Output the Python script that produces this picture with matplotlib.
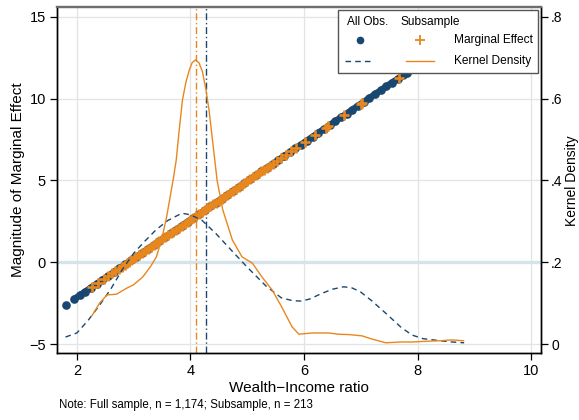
import matplotlib
matplotlib.use("Agg")
import matplotlib.pyplot as plt
from matplotlib.patches import Rectangle
from matplotlib.lines import Line2D

plt.rcParams["font.family"] = ["Liberation Sans", "DejaVu Sans"]

NAVY = "#1a476f"
ORANGE = "#e8871e"

# ---- marginal effects, all observations ----
all_wi = [1.81, 1.95, 2.05, 2.15, 2.25, 2.35, 2.45, 2.55, 2.65, 2.75, 2.85,
          2.95, 3.05, 3.15, 3.25, 3.35, 3.45, 3.55, 3.65, 3.75, 3.85, 3.95,
          4.05, 4.15, 4.25, 4.35, 4.45, 4.55, 4.65, 4.75, 4.85, 4.95, 5.05,
          5.15, 5.25, 5.35, 5.45, 5.55, 5.65, 5.75, 5.85, 5.95, 6.05, 6.15,
          6.25, 6.35, 6.45, 6.55, 6.65, 6.75, 6.85, 6.95, 7.05, 7.15, 7.25,
          7.35, 7.45, 7.55, 7.65, 7.75, 7.81]
all_me = [-2.59, -2.26, -2.02, -1.79, -1.55, -1.31, -1.08, -0.84, -0.60,
          -0.37, -0.13, 0.11, 0.34, 0.58, 0.82, 1.05, 1.29, 1.53, 1.76, 2.00,
          2.24, 2.47, 2.71, 2.94, 3.18, 3.42, 3.65, 3.89, 4.13, 4.36, 4.60,
          4.84, 5.07, 5.31, 5.55, 5.78, 6.02, 6.26, 6.49, 6.73, 6.97, 7.20,
          7.44, 7.67, 7.91, 8.15, 8.38, 8.62, 8.86, 9.09, 9.33, 9.57, 9.80,
          10.04, 10.28, 10.51, 10.75, 10.99, 11.22, 11.46, 11.60]

# ---- marginal effects, subsample ----
sub_wi = [2.26, 2.38, 2.47, 2.55, 2.62, 2.68, 2.74, 2.79, 2.84, 2.88, 2.92,
          2.96, 3.00, 3.05, 3.10, 3.15, 3.20, 3.25, 3.30, 3.35, 3.40, 3.45,
          3.50, 3.55, 3.60, 3.65, 3.70, 3.75, 3.80, 3.85, 3.90, 3.95, 4.00,
          4.05, 4.10, 4.15, 4.20, 4.25, 4.30, 4.35, 4.40, 4.45, 4.50, 4.55,
          4.60, 4.65, 4.70, 4.75, 4.80, 4.85, 4.90, 4.95, 5.00, 5.05, 5.10,
          5.15, 5.20, 5.25, 5.30, 5.35, 5.40, 5.45, 5.52, 5.60, 5.68, 5.77,
          5.86, 6.02, 6.20, 6.38, 6.42, 6.70, 7.00, 7.03, 7.68]
sub_me = [-1.53, -1.24, -1.03, -0.84, -0.67, -0.53, -0.39, -0.27, -0.15,
          -0.06, 0.04, 0.13, 0.23, 0.34, 0.46, 0.58, 0.70, 0.82, 0.93, 1.05,
          1.17, 1.29, 1.41, 1.53, 1.64, 1.76, 1.88, 2.00, 2.12, 2.24, 2.35,
          2.47, 2.59, 2.71, 2.83, 2.94, 3.06, 3.18, 3.30, 3.42, 3.54, 3.65,
          3.77, 3.89, 4.01, 4.13, 4.25, 4.36, 4.48, 4.60, 4.72, 4.84, 4.96,
          5.07, 5.19, 5.31, 5.43, 5.55, 5.66, 5.78, 5.90, 6.02, 6.18, 6.37,
          6.56, 6.78, 6.99, 7.37, 7.79, 8.22, 8.31, 8.98, 9.69, 9.76, 11.29]

# ---- kernel densities ----
kd_all_x = [1.80, 2.00, 2.20, 2.40, 2.60, 2.80, 3.00, 3.20, 3.40, 3.60,
            3.85, 4.00, 4.20, 4.45, 4.75, 5.00, 5.33, 5.60, 5.80, 5.95,
            6.10, 6.30, 6.50, 6.70, 6.85, 7.00, 7.20, 7.45, 7.70, 7.90,
            8.10, 8.40, 8.60, 8.82]
kd_all_y = [0.017, 0.027, 0.058, 0.095, 0.135, 0.182, 0.222, 0.252, 0.280,
            0.302, 0.320, 0.316, 0.303, 0.270, 0.225, 0.188, 0.142, 0.113,
            0.106, 0.105, 0.110, 0.123, 0.134, 0.140, 0.137, 0.127, 0.105,
            0.074, 0.042, 0.022, 0.013, 0.008, 0.005, 0.003]
kd_sub_x = [2.26, 2.40, 2.53, 2.70, 2.87, 3.00, 3.16, 3.30, 3.40, 3.49,
            3.58, 3.63, 3.70, 3.75, 3.80, 3.86, 3.92, 3.98, 4.03, 4.09,
            4.15, 4.21, 4.27, 4.33, 4.40, 4.47, 4.57, 4.74, 4.91, 5.09,
            5.26, 5.44, 5.61, 5.79, 5.91, 6.14, 6.44, 6.60, 6.80, 7.02,
            7.20, 7.44, 7.70, 7.90, 8.20, 8.40, 8.60, 8.81]
kd_sub_y = [0.068, 0.100, 0.120, 0.122, 0.136, 0.145, 0.164, 0.190, 0.213,
            0.254, 0.310, 0.350, 0.405, 0.450, 0.520, 0.597, 0.640, 0.670,
            0.688, 0.695, 0.688, 0.667, 0.625, 0.570, 0.485, 0.400, 0.328,
            0.254, 0.213, 0.198, 0.164, 0.132, 0.090, 0.042, 0.024, 0.027,
            0.027, 0.024, 0.023, 0.020, 0.012, 0.003, 0.005, 0.005, 0.007,
            0.008, 0.010, 0.008]

# sample means of the wealth-income ratio
mean_sub = 4.09
mean_all = 4.27

note = "Note: Full sample, n = 1,174; Subsample, n = 213"

fig = plt.figure(figsize=(5.79, 4.2), dpi=100)
ax = fig.add_axes([0.0984, 0.1595, 0.8356, 0.8235])
ax2 = ax.twinx()

# grid
for xv in [2, 4, 6, 8, 10]:
    ax.axvline(xv, color="#e3e3e3", lw=0.9, zorder=0)
for yv in [-5, 5, 10, 15]:
    ax.axhline(yv, color="#e3e3e3", lw=0.9, zorder=0)
ax.axhline(0, color="#d5e3ea", lw=2.4, zorder=0.5)

# marginal effects (the first, isolated observation is not joined up)
ax.plot(all_wi[1:], all_me[1:], color=NAVY, lw=4.6, solid_capstyle="round",
        zorder=2)
ax.plot(all_wi, all_me, "o", color=NAVY, ms=5.2, zorder=2)
ax.plot(sub_wi, sub_me, "+", color=ORANGE, ms=7.5, mew=1.9, zorder=3)

# means
ax.axvline(mean_sub, color=ORANGE, lw=1.0, ls=(0, (5, 2, 1, 2)), zorder=1)
ax.axvline(mean_all, color=NAVY, lw=1.0, ls=(0, (5, 2, 1, 2)), zorder=1)

# densities
ax2.plot(kd_all_x, kd_all_y, color=NAVY, lw=1.0, ls=(0, (4, 3)))
ax2.plot(kd_sub_x, kd_sub_y, color=ORANGE, lw=1.0)

ax.set_xlim(1.65, 10.17)
ax.set_ylim(-5.55, 15.6)
ax2.set_ylim(-0.022, 0.824)

ax.set_xticks([2, 4, 6, 8, 10])
ax.set_yticks([-5, 0, 5, 10, 15])
ax2.set_yticks([0, 0.2, 0.4, 0.6, 0.8])
ax2.set_yticklabels(["0", ".2", ".4", ".6", ".8"])

for a in (ax, ax2):
    a.tick_params(labelsize=10.5, length=5, width=0.9, color="black", pad=3)
    for s in a.spines.values():
        s.set_linewidth(1.0)
        s.set_color("black")
    a.spines["top"].set_color("#6e6e6e")
    a.spines["top"].set_linewidth(1.6)
ax2.tick_params(labelsize=10, pad=2.5)

ax.set_xlabel("Wealth\u2212Income ratio", fontsize=11, labelpad=2)
ax.set_ylabel("Magnitude of Marginal Effect", fontsize=11, labelpad=3)
fig.text(0.988, 0.57, "Kernel Density", fontsize=10, rotation=90,
         ha="center", va="center")

fig.text(0.102, 0.035, note, fontsize=8.3, ha="left", va="center")

# legend drawn by hand (two-column key like the original)
lx0, lx1, ly0, ly1 = 0.58, 0.994, 0.809, 0.991
ax2.add_patch(Rectangle((lx0, ly0), lx1 - lx0, ly1 - ly0, transform=ax.transAxes,
                        fc="white", ec="#555555", lw=1.0, zorder=10))
fs = 8.6
def axx(px):
    return (px - 57) / 484.0
def axy(py):
    return (353 - py) / 346.0
ax2.text(axx(368), axy(22), "All Obs.", transform=ax.transAxes, fontsize=fs,
         ha="center", va="center", zorder=11)
ax2.text(axx(430), axy(22), "Subsample", transform=ax.transAxes, fontsize=fs,
         ha="center", va="center", zorder=11)
ax2.text(axx(454), axy(40), "Marginal Effect", transform=ax.transAxes,
         fontsize=fs, ha="left", va="center", zorder=11)
ax2.text(axx(454), axy(61), "Kernel Density", transform=ax.transAxes,
         fontsize=fs, ha="left", va="center", zorder=11)
ax2.add_line(Line2D([axx(360)], [axy(40)], marker="o", ms=4.5, color=NAVY,
                    transform=ax.transAxes, zorder=11))
ax2.add_line(Line2D([axx(420)], [axy(40)], marker="+", ms=6.5, mew=1.3,
                    color=ORANGE, transform=ax.transAxes, zorder=11))
ax2.add_line(Line2D([axx(345), axx(374)], [axy(61), axy(61)], color=NAVY,
                    lw=1.0, ls=(0, (4, 3)), transform=ax.transAxes, zorder=11))
ax2.add_line(Line2D([axx(406), axx(434)], [axy(61), axy(61)], color=ORANGE,
                    lw=1.0, transform=ax.transAxes, zorder=11))

fig.savefig("out.png", dpi=100)
